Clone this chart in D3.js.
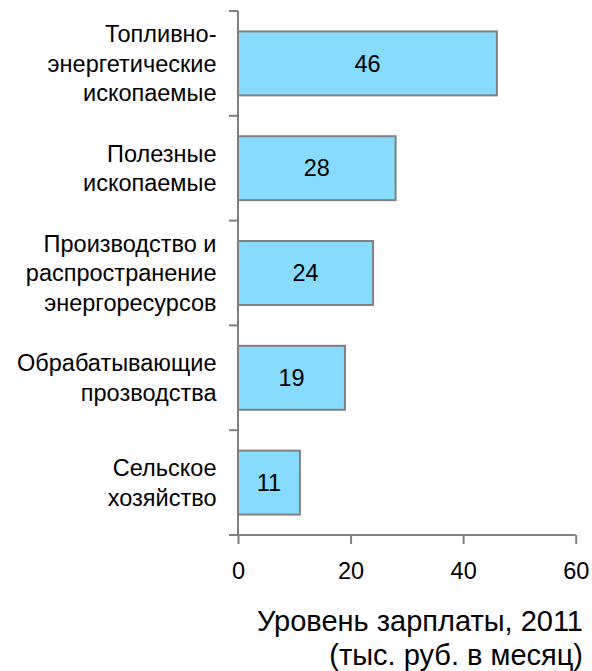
<!DOCTYPE html>
<html>
<head>
<meta charset="utf-8">
<script src="https://cdn.jsdelivr.net/npm/d3@7"></script>
<style>
  body { margin: 0; background: #fff; }
  svg text { font-family: "Liberation Sans", Arial, sans-serif; fill: #000; }
</style>
</head>
<body>
<div id="container"></div>
<script>
const WIDTH = 592;
const HEIGHT = 671;

const categories = [
  ['Топливно-', 'энергетические', 'ископаемые'],
  ['Полезные', 'ископаемые'],
  ['Производство и', 'распространение', 'энергоресурсов'],
  ['Обрабатывающие', 'прозводства'],
  ['Сельское', 'хозяйство']
];
const values = [46, 28, 24, 19, 11];
const xTicks = [0, 20, 40, 60];
const axisTitle = ['Уровень зарплаты, 2011', '(тыс. руб. в месяц)'];

const data = categories.map((c, i) => ({ id: i, lines: c, value: values[i] }));

const svg = d3.select('#container')
  .append('svg')
    .attr('width', WIDTH)
    .attr('height', HEIGHT);

const xscale = d3.scaleLinear().domain([0, 60]).range([238, 575.7]);
const yscale = d3.scaleBand()
  .domain(data.map(d => d.id))
  .range([11, 535])
  .paddingInner(0.39)
  .paddingOuter(0.195);

const AXIS_COLOR = '#808080';

// bars
svg.selectAll('rect.bar')
  .data(data)
  .enter()
  .append('rect')
    .attr('class', 'bar')
    .attr('x', xscale(0))
    .attr('y', d => yscale(d.id))
    .attr('width', d => xscale(d.value) - xscale(0))
    .attr('height', yscale.bandwidth())
    .attr('fill', '#87DBFF')
    .attr('stroke', AXIS_COLOR)
    .attr('stroke-width', 2);

// value labels
svg.selectAll('text.val')
  .data(data)
  .enter()
  .append('text')
    .attr('class', 'val')
    .attr('x', d => (xscale(0) + xscale(d.value)) / 2)
    .attr('y', d => yscale(d.id) + yscale.bandwidth() / 2)
    .attr('dy', '0.35em')
    .attr('text-anchor', 'middle')
    .style('font-size', '23.5px')
    .text(d => d.value);

// category axis: line + ticks between bands
const yAxisG = svg.append('g');
yAxisG.append('line')
  .attr('x1', xscale(0)).attr('x2', xscale(0))
  .attr('y1', 11).attr('y2', 535)
  .attr('stroke', AXIS_COLOR).attr('stroke-width', 2);

const bandEdges = d3.range(data.length + 1).map(i => 11 + i * (524 / data.length));
yAxisG.selectAll('line.tick')
  .data(bandEdges)
  .enter()
  .append('line')
    .attr('class', 'tick')
    .attr('x1', xscale(0) - 9).attr('x2', xscale(0))
    .attr('y1', d => d).attr('y2', d => d)
    .attr('stroke', AXIS_COLOR).attr('stroke-width', 2);

// category labels
const LINE_H = 29.5;
svg.selectAll('text.cat')
  .data(data)
  .enter()
  .append('text')
    .attr('class', 'cat')
    .attr('text-anchor', 'end')
    .style('font-size', '23.5px')
    .each(function (d) {
      const cy = yscale(d.id) + yscale.bandwidth() / 2;
      const top = cy - (d.lines.length - 1) * LINE_H / 2;
      d3.select(this).selectAll('tspan')
        .data(d.lines)
        .enter()
        .append('tspan')
          .attr('x', 216.5)
          .attr('y', (t, j) => top + j * LINE_H)
          .attr('dy', '0.35em')
          .text(t => t);
    });

// value axis
const axisBottom = d3.axisBottom(xscale)
  .tickValues(xTicks)
  .tickSize(9)
  .tickPadding(18)
  .tickFormat(d3.format('d'));

const xAxis = svg.append('g')
  .attr('transform', 'translate(0, 535)')
  .call(axisBottom);

xAxis.select('.domain')
  .attr('d', `M${xscale(0) - 9},0H${xscale(60)}`)
  .attr('stroke', AXIS_COLOR)
  .attr('stroke-width', 2);
xAxis.selectAll('.tick line')
  .attr('stroke', AXIS_COLOR)
  .attr('stroke-width', 2);
xAxis.selectAll('.tick text')
  .style('font-size', '23.5px')
  .style('font-family', '"Liberation Sans", Arial, sans-serif')
  .attr('fill', '#000');

// axis title
svg.selectAll('text.title')
  .data(axisTitle)
  .enter()
  .append('text')
    .attr('class', 'title')
    .attr('x', 583)
    .attr('y', (d, i) => 631 + i * 34)
    .attr('text-anchor', 'end')
    .style('font-size', '29px')
    .text(d => d);
</script>
</body>
</html>
